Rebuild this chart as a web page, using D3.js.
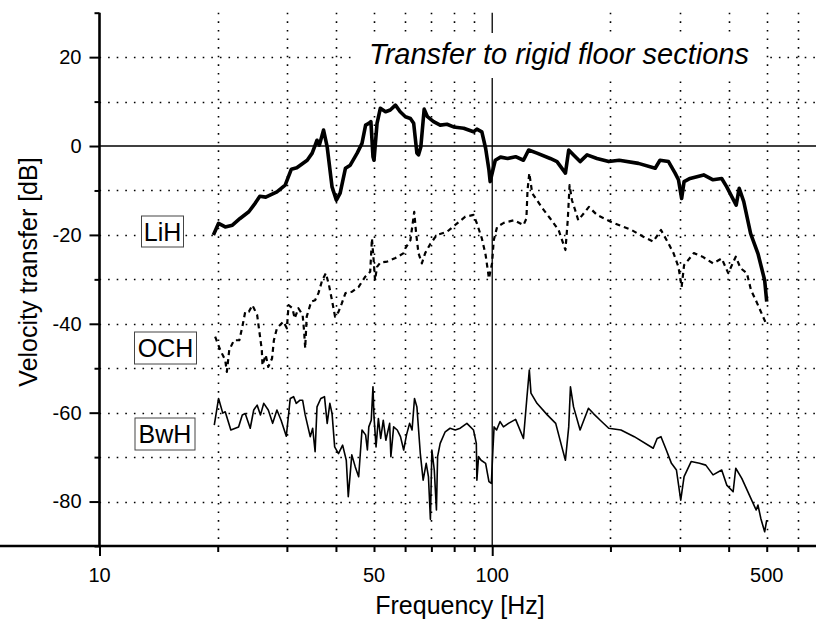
<!doctype html>
<html>
<head>
<meta charset="utf-8" />
<title>Velocity transfer</title>
<script src="https://cdn.jsdelivr.net/npm/d3@7"></script>
<style>
  html, body { margin: 0; padding: 0; background: #fff; }
  svg { display: block; font-family: "Liberation Sans", Arial, sans-serif; }
</style>
</head>
<body>
<script>
// LiH (thick solid)
const lihFreq = [19.5,20.1,20.9,21.8,22.8,24.0,24.9,25.6,26.5,28.3,29.7,30.8,31.8,33.8,34.8,35.8,36.3,37.2,38.0,39.1,
  40.1,41.0,42.3,43.5,45.3,46.6,47.6,48.5,49.1,49.7,50.0,50.9,51.9,53.5,55.0,56.7,58.3,60.1,61.9,63.1,
  64.3,64.9,65.8,67.1,68.4,70.9,73.7,76.7,79.7,84.6,89.6,91.4,94.1,96.2,98.1,98.8,100.4,101.8,105,109.5,
  114.7,120.1,123.8,130,140.5,146.2,153.6,156.6,161.1,167.4,174.4,184.8,198,210.5,235.7,260,267.4,281.1,292.2,298,
  303.6,308,319,345.5,365,384,395.5,418,425.5,437,455,475,494,500];
const lihDb = [-20.0,-17.4,-18.2,-17.8,-16.3,-14.8,-12.9,-11.3,-11.5,-10.3,-8.8,-5.2,-4.9,-3.2,-1.6,1.3,0.2,3.6,-0.2,-9.2,
  -12.2,-10.6,-5.0,-4.3,-1.6,0.6,4.7,5.1,5.5,-2.4,-3.2,5.1,8.5,7.7,8.1,9.2,7.7,6.6,6.2,5.1,
  -1.6,-2.0,-0.2,8.3,6.6,5.5,4.7,4.9,4.3,4.0,3.2,3.8,3.2,-0.5,-5.4,-8.0,-5.4,-3.2,-2.5,-2.8,
  -2.4,-3.2,-0.9,-1.6,-2.8,-3.5,-6.1,-0.9,-2.0,-3.5,-2.0,-2.8,-3.5,-3.2,-3.9,-5.0,-3.2,-3.5,-6.1,-7.6,
  -11.8,-8.0,-7.3,-6.5,-7.6,-7.3,-9.2,-13.3,-9.5,-12.5,-19.7,-24.2,-30.2,-35.0];

// OCH (dashed)
const ochFreq = [19.7,20.3,20.9,21.1,21.4,22.0,22.7,23.1,23.5,24.0,24.5,25.2,25.5,25.9,26.0,26.5,26.9,27.5,27.8,28.3,
  29.4,30.0,30.3,31.0,31.4,32.1,32.9,33.2,33.4,33.7,34.6,35.4,36.1,36.9,37.7,38.4,39.0,39.8,40.6,41.4,
  42.3,43.9,45.7,47.5,48.9,49.4,49.9,50.3,50.9,51.9,54.0,56.7,59.5,60.1,61.9,63.3,64.0,64.9,66.2,67.5,
  69.6,72.3,76.7,81.4,85.4,89.6,91.4,94.1,96.2,98.1,99.9,100.9,102.9,107,113.6,120.1,122.2,123,124.3,126.4,
  134.2,140.5,147.6,153.6,155.7,157.4,159.6,162.6,165.6,176.3,184.8,199.7,226.4,242.6,257,269,281,289.5,298,303.6,
  308,326,343,365,384,399,417,429,445,456,469,481,500];
const ochDb = [-42.9,-45.9,-48.2,-50.8,-45.9,-43.7,-43.7,-40.7,-37.3,-37.3,-35.8,-38.0,-41.4,-45.9,-49.3,-47.0,-49.7,-47.8,-43.7,-41.0,
  -39.5,-41.0,-35.8,-36.5,-38.8,-36.5,-38.0,-41.8,-45.5,-38.4,-35.0,-34.7,-33.1,-30.2,-28.6,-31.3,-34.3,-38.4,-37.3,-35.4,
  -33.1,-32.8,-31.7,-29.4,-28.3,-20.8,-25.7,-30.2,-27.2,-26.2,-26.0,-25.2,-24.1,-23.0,-21.2,-14.8,-19.6,-24.1,-26.4,-24.1,
  -22.0,-20.0,-19.3,-17.4,-15.9,-15.5,-17.4,-20.8,-24.5,-29.8,-26.4,-21.2,-18.2,-17.3,-16.7,-17.8,-16.3,-9.9,-6.1,-10.6,
  -14.0,-16.3,-18.9,-23.4,-16.7,-8.8,-12.2,-14.4,-16.7,-13.7,-15.5,-17.0,-18.9,-20.4,-21.5,-18.9,-21.9,-24.1,-27.2,-31.7,
  -26.8,-24.1,-24.9,-26.4,-25.3,-28.6,-24.9,-27.5,-28.6,-32.4,-34.7,-36.9,-40.3];

// BwH (thin solid)
const bwhFreq = [19.6,20.1,20.6,20.9,21.6,22.6,23.1,23.5,24.2,24.7,25.2,25.7,26.2,26.9,27.6,28.3,29.0,29.9,30.6,31.2,
  31.7,32.4,32.9,33.4,34.4,34.9,35.4,35.8,36.6,37.4,38.0,38.6,39.1,39.7,40.6,41.6,42.5,43.0,43.9,44.8,
  45.7,46.6,47.6,48.1,48.5,49.2,49.7,50.0,50.6,51.3,52.0,52.8,53.6,54.8,55.2,56.1,57.3,58.4,59.5,60.5,
  61.6,62.5,63.4,64.3,65.6,66.7,67.9,68.8,69.6,70.2,71.2,72.1,72.6,73.7,75.9,78.1,80.5,82.9,86.2,89.6,
  91.1,91.4,92.3,93.7,96.2,98.1,99.5,100.4,101.1,102.6,104.7,106.8,110,114.7,120.1,122.5,124.3,125.5,130,138.1,
  145.1,150.4,153.6,156.6,158.2,161.1,167.4,170.6,175.8,181,188.4,198,212.7,230,257,263,269,277.5,286,294.5,
  302,308,321,337,349.8,365,384,395.5,410.6,417,432,453.5,470,475,483,494,500];
const bwhDb = [-62.8,-56.8,-60.1,-59.8,-63.9,-63.2,-60.5,-60.2,-63.5,-59.4,-58.3,-60.5,-57.9,-59.4,-62.4,-59.4,-61.7,-65.3,-56.8,-56.4,
  -57.9,-57.2,-57.2,-60.5,-65.4,-63.5,-68.8,-58.7,-56.8,-56.4,-62.4,-57.9,-60.2,-67.7,-69.2,-67.3,-70.7,-78.9,-69.5,-72.2,
  -74.4,-63.9,-65.0,-68.4,-63.2,-61.7,-54.2,-60.9,-67.7,-61.3,-65.8,-61.7,-66.2,-62.4,-69.9,-63.2,-63.9,-65.4,-68.4,-65.0,
  -62.4,-63.9,-56.8,-58.7,-69.2,-75.2,-71.4,-74.4,-84.0,-68.4,-72.9,-81.9,-69.9,-66.9,-64.3,-63.5,-63.9,-63.5,-62.4,-63.9,
  -66.9,-75.2,-69.9,-70.7,-71.4,-75.5,-75.9,-68.4,-63.2,-63.9,-62.0,-63.2,-62.4,-61.5,-65.8,-56.8,-50.4,-55.6,-57.9,-60.5,
  -62.4,-67.7,-70.7,-63.2,-54.2,-58.7,-63.9,-62.0,-59.0,-60.2,-61.7,-63.5,-63.9,-65.4,-68.0,-65.8,-65.4,-68.4,-71.4,-72.9,
  -79.7,-74.4,-71.0,-71.4,-71.8,-74.0,-72.9,-76.3,-77.8,-72.5,-74.8,-78.9,-81.9,-80.8,-83.8,-86.8,-84.2];

const xMajor = [10, 100];
const xMinor = [20, 30, 40, 50, 60, 70, 80, 90, 200, 300, 400, 500, 600];
const xLabels = [10, 50, 100, 500];
const yMajor = [-80, -60, -40, -20, 0, 20];
const yMinor = [-90, -70, -50, -30, -10, 10, 30];
const yGrid = [-80, -70, -60, -50, -40, -30, -20, -10, 10, 20];

const legend = [
  {name: "LiH", x: 141.5, y: 216, w: 42, h: 31},
  {name: "OCH", x: 134.5, y: 332, w: 62, h: 32},
  {name: "BwH", x: 135, y: 418, w: 60, h: 32}
];

const W = 816, H = 622;
const svg = d3.select("body").append("svg").attr("width", W).attr("height", H);

const x = d3.scaleLog().domain([10, 667.5]).range([99.5, 816]);
const y = d3.scaleLinear().domain([-90, 30]).range([546, 12.7]);

// grid
const grid = svg.append("g").attr("stroke", "#000").attr("stroke-width", 1.6)
  .attr("stroke-dasharray", "1.6,7");
grid.selectAll("line.v").data(xMinor).join("line")
  .attr("x1", d => Math.round(x(d)) + 0.5).attr("x2", d => Math.round(x(d)) + 0.5)
  .attr("y1", y(30)).attr("y2", y(-90));
grid.selectAll("line.h").data(yGrid).join("line")
  .attr("x1", x(10)).attr("x2", W)
  .attr("y1", d => Math.round(y(d)) + 0.5).attr("y2", d => Math.round(y(d)) + 0.5);

// solid reference lines
svg.append("line").attr("x1", x(10)).attr("x2", W)
  .attr("y1", y(0)).attr("y2", y(0)).attr("stroke", "#000").attr("stroke-width", 1.6);
svg.append("line").attr("x1", x(100)).attr("x2", x(100))
  .attr("y1", y(30)).attr("y2", y(-90)).attr("stroke", "#000").attr("stroke-width", 1.3);

// title
svg.append("rect").attr("x", 355).attr("y", 33).attr("width", 410).attr("height", 45).attr("fill", "#fff");
svg.append("text").attr("x", 559).attr("y", 64).attr("text-anchor", "middle")
  .attr("font-size", 29).attr("font-style", "italic")
  .text("Transfer to rigid floor sections");

// curves
const line = d3.line().x(d => x(d[0])).y(d => y(d[1]));
const zip = (a, b) => a.map((v, i) => [v, b[i]]);

svg.append("path").datum(zip(bwhFreq, bwhDb)).attr("d", line)
  .attr("fill", "none").attr("stroke", "#000").attr("stroke-width", 1.6).attr("stroke-linejoin", "round");
svg.append("path").datum(zip(ochFreq, ochDb)).attr("d", line)
  .attr("fill", "none").attr("stroke", "#000").attr("stroke-width", 2.2)
  .attr("stroke-dasharray", "5,4").attr("stroke-linejoin", "round");
svg.append("path").datum(zip(lihFreq, lihDb)).attr("d", line)
  .attr("fill", "none").attr("stroke", "#000").attr("stroke-width", 3.6).attr("stroke-linejoin", "round");

// legend labels
const lg = svg.append("g").selectAll("g").data(legend).join("g");
lg.append("rect").attr("x", d => d.x).attr("y", d => d.y).attr("width", d => d.w).attr("height", d => d.h)
  .attr("fill", "#fff").attr("stroke", "#444").attr("stroke-width", 1);
lg.append("text").attr("x", d => d.x + d.w / 2).attr("y", d => d.y + d.h / 2 + 9)
  .attr("text-anchor", "middle").attr("font-size", 25).text(d => d.name);

// axes
const fmt = d => String(d);
const yAxis = svg.append("g").attr("transform", `translate(${x(10)},0)`)
  .call(d3.axisLeft(y).tickValues(yMajor).tickSize(10).tickPadding(8).tickFormat(fmt));
const yAxisMinor = svg.append("g").attr("transform", `translate(${x(10)},0)`)
  .call(d3.axisLeft(y).tickValues(yMinor).tickSize(5).tickFormat(""));
const xAxis = svg.append("g").attr("transform", `translate(0,${y(-90)})`)
  .call(d3.axisBottom(x).tickValues(xMajor).tickSize(10).tickFormat(""));
const xAxisMinor = svg.append("g").attr("transform", `translate(0,${y(-90)})`)
  .call(d3.axisBottom(x).tickValues(xMinor).tickSize(6).tickFormat(""));

[yAxis, yAxisMinor, xAxis, xAxisMinor].forEach(a => {
  a.select(".domain").attr("stroke-width", 2.6).attr("d", null);
  a.selectAll(".tick line").attr("stroke-width", 2);
});
yAxis.select(".domain").attr("d", `M0,${y(30)}V${y(-90)}`);
yAxisMinor.select(".domain").remove();
xAxis.select(".domain").attr("d", `M-4,0H${W}`);
xAxisMinor.select(".domain").remove();
yAxis.selectAll("text").attr("font-size", 20).attr("font-family", null).attr("fill", "#000");

svg.append("g").selectAll("text").data(xLabels).join("text")
  .attr("x", d => x(d)).attr("y", 582).attr("text-anchor", "middle")
  .attr("font-size", 20).text(fmt);

// axis titles
svg.append("text").attr("x", 460).attr("y", 614).attr("text-anchor", "middle")
  .attr("font-size", 25).text("Frequency [Hz]");
svg.append("text").attr("transform", "translate(37,272) rotate(-90)").attr("text-anchor", "middle")
  .attr("font-size", 25).text("Velocity transfer [dB]");
</script>
</body>
</html>
